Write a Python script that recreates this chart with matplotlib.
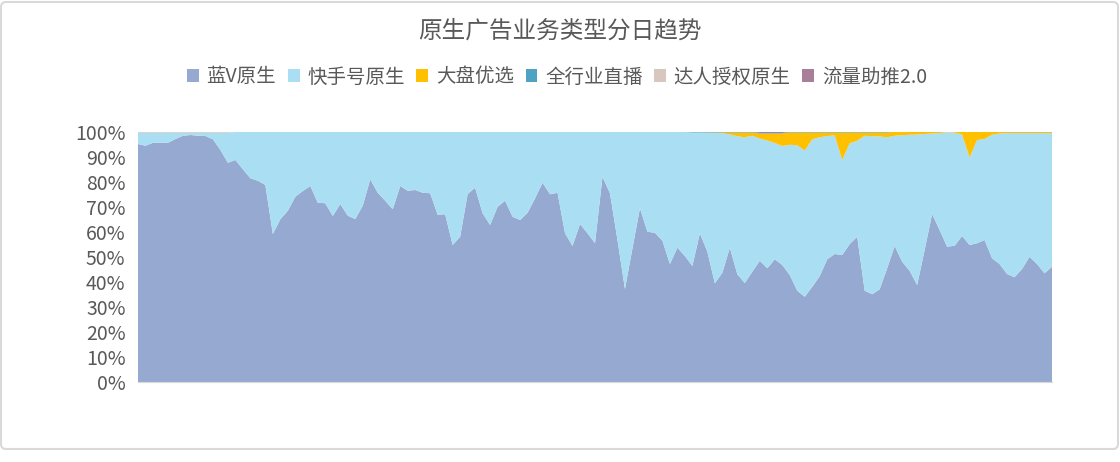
import matplotlib
matplotlib.use("Agg")
import matplotlib.pyplot as plt
from matplotlib.patches import FancyBboxPatch
from matplotlib.ticker import FuncFormatter

plt.rcParams['font.family'] = ['Noto Sans CJK SC', 'DejaVu Sans']

# 各业务类型每日占比（%）
lanv = [95.2, 94.5, 95.7, 95.7, 95.7, 97.2, 98.5, 98.8, 98.5, 98.4,
        97.1, 92.8, 87.7, 88.8, 85.1, 81.5, 80.5, 78.8, 59.2, 65.1,
        68.5, 74.1, 76.4, 78.4, 71.7, 71.5, 66.4, 71.2, 66.5, 65.2,
        70.5, 81.1, 75.7, 72.5, 69.1, 78.4, 76.5, 76.8, 75.7, 75.5,
        66.9, 67.1, 54.8, 58.1, 75.2, 77.7, 67.5, 62.8, 70.1, 72.5,
        66.1, 64.8, 67.7, 73.5, 79.7, 75.1, 75.7, 59.5, 54.4, 63.2,
        59.5, 55.5, 82.1, 75.5, 56.8, 37.2, 53.5, 69.5, 60.1, 59.7,
        56.5, 47.2, 53.7, 50.4, 46.4, 59.5, 52.1, 39.5, 43.7, 53.7,
        43.1, 39.6, 44.1, 48.5, 45.5, 49.1, 46.8, 42.8, 36.5, 34.1,
        38.1, 42.4, 49.1, 51.2, 50.8, 55.2, 58.1, 36.5, 35.1, 37.1,
        45.5, 54.4, 48.1, 44.5, 38.8, 52.8, 67.2, 60.8, 54.1, 54.5,
        58.4, 54.8, 55.5, 56.8, 49.5, 47.2, 43.2, 41.9, 45.2, 50.1,
        47.2, 43.5, 46.1]

kuaishou = [4.5, 5.2, 4.0, 4.0, 4.0, 2.5, 1.2, 0.9, 1.2, 1.3,
            2.6, 6.9, 12.0, 11.2, 14.9, 18.5, 19.5, 21.2, 40.8, 34.9,
            31.5, 25.9, 23.6, 21.6, 28.3, 28.5, 33.6, 28.8, 33.5, 34.8,
            29.5, 18.9, 24.3, 27.5, 30.9, 21.6, 23.5, 23.2, 24.3, 24.5,
            33.1, 32.9, 45.2, 41.9, 24.8, 22.3, 32.5, 37.2, 29.9, 27.5,
            33.9, 35.2, 32.3, 26.5, 20.3, 24.9, 24.3, 40.5, 45.6, 36.8,
            40.5, 44.5, 17.9, 24.5, 43.2, 62.8, 46.5, 30.5, 39.9, 40.3,
            43.5, 52.8, 46.3, 49.6, 53.4, 40.3, 47.6, 60.1, 55.8, 45.3,
            55.2, 58.3, 54.4, 48.9, 51.1, 46.5, 47.6, 52.1, 58.2, 58.5,
            59.0, 55.5, 49.3, 47.4, 38.0, 40.3, 38.4, 62.0, 63.2, 61.1,
            52.4, 44.1, 50.6, 54.4, 60.2, 46.4, 32.2, 38.8, 45.8, 45.3,
            40.6, 35.0, 41.3, 40.4, 49.4, 52.2, 56.4, 57.7, 54.4, 49.5,
            52.4, 56.1, 53.5]

dapan = [0.0] * 76 + [0.1, 0.2, 0.3, 0.8,
                      1.5, 1.9, 1.3, 2.0, 2.8, 3.8, 5.0, 4.9, 5.1, 7.2,
                      2.7, 1.9, 1.4, 1.2, 11.0, 4.3, 3.3, 1.3, 1.5, 1.6,
                      1.9, 1.5, 1.3, 1.1, 1.0, 0.8, 0.6, 0.4, 0.1, 0.2,
                      1.0, 10.2, 3.2, 2.8, 1.1, 0.6, 0.4, 0.4, 0.4, 0.4,
                      0.4, 0.4, 0.4]

zhibo = [0.0] * 74 + [0.2] * 27 + [0.0] * 22
daren = [0.3] * 13 + [0.0] * 110
zhutui = [0.0] * 83 + [0.4] * 4 + [0.0] * 36

labels = ['蓝V原生', '快手号原生', '大盘优选', '全行业直播', '达人授权原生', '流量助推2.0']
colors = ['#96AAD1', '#AADEF2', '#FFC000', '#4EA2C2', '#D8C7BF', '#A87F98']

days = list(range(len(lanv)))

fig = plt.figure(figsize=(11.2, 4.62), dpi=100)
ax = fig.add_axes([138 / 1120, 1 - 382 / 462, 914 / 1120, 250 / 462])

ax.stackplot(days, lanv, kuaishou, dapan, zhibo, daren, zhutui,
             colors=colors, labels=labels, linewidth=0)

ax.set_xlim(0, len(lanv) - 1)
ax.set_ylim(0, 100)
ax.set_yticks(range(0, 101, 10))
ax.yaxis.set_major_formatter(FuncFormatter(lambda v, p: f'{v:.0f}%'))
ax.set_xticks([])
ax.tick_params(axis='y', length=0, pad=9, labelsize=14, labelcolor='#595959')
for s in ['top', 'right', 'left']:
    ax.spines[s].set_visible(False)
ax.spines['bottom'].set_color('#D9D9D9')

fig.text(0.5, 1 - 31 / 462, '原生广告业务类型分日趋势', ha='center', va='center',
         fontsize=17, color='#595959')

fig.legend(loc='center', bbox_to_anchor=(557 / 1120, 1 - 77 / 462), ncol=6,
           frameon=False, fontsize=14, handlelength=0.6, handleheight=0.6,
           handletextpad=0.4, columnspacing=0.6, labelcolor='#595959')

border = FancyBboxPatch((1, 13), 1117, 447, boxstyle='round,pad=0,rounding_size=5',
                        transform=None, fill=False, ec='#D9D9D9', lw=1.5)
fig.add_artist(border)

fig.savefig('out.png', dpi=100)
